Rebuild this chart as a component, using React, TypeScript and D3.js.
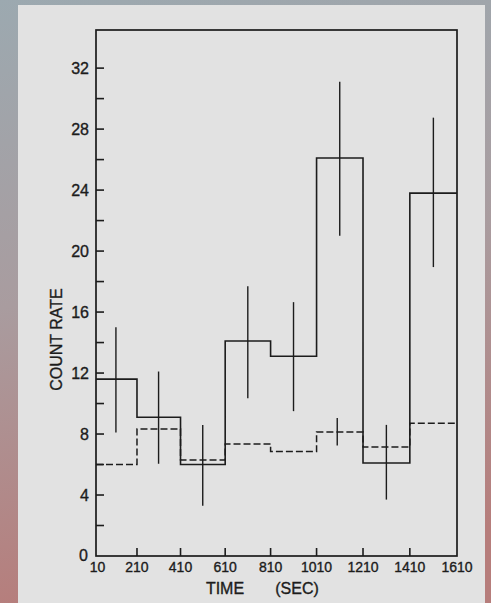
import * as d3 from 'd3'

const W = 491
const H = 603

// bin left edges (sec) and axis labels
const binStart = [10, 210, 410, 610, 810, 1010, 1210, 1410]
const binEnd = 1610
const xTickLabels = ['10', '210', '410', '610', '810', '1010', '1210', '1410', '1610']
const yTickLabels = ['0', '4', '8', '12', '16', '20', '24', '28', '32']

// observed count rate (solid) with error bar limits
const countRate = [11.6, 9.1, 6.0, 14.1, 13.1, 26.1, 6.1, 23.8]
const errTop = [15.0, 12.1, 8.6, 17.7, 16.65, 31.1, 8.6, 28.75]
const errBottom = [8.1, 6.05, 3.3, 10.35, 9.5, 21.0, 3.7, 18.95]

// background rate (dashed)
const bgRate = [6.0, 8.33, 6.3, 7.35, 6.85, 8.13, 7.15, 8.7]
const bgErrBin = 5
const bgErrTop = 9.05
const bgErrBottom = 7.25

const ink = '#1c1c1c'
const font = '"Liberation Sans", Arial, sans-serif'
// scanned lettering is a bit heavier than the regular face
const textStyle = { fontFamily: font, fill: ink, stroke: ink, strokeWidth: 0.35 }

const App = () => {
  const margin = { left: 96, right: 34, top: 30, bottom: 47 }
  const x0 = margin.left
  const x1 = W - margin.right
  const y0 = H - margin.bottom
  const y1 = margin.top

  // the scanned axis stretches a little towards the right
  const x = d3.scalePow().exponent(1.05).domain([10, binEnd]).range([x0, x1])
  const y = d3.scaleLinear().domain([0, 34.5]).range([y0, y1])

  const step = d3
    .line<[number, number]>()
    .x((d) => x(d[0]))
    .y((d) => y(d[1]))
    .curve(d3.curveStepAfter)

  const toPoints = (vals: number[]) => {
    const pts: [number, number][] = binStart.map((s, i) => [s, vals[i]])
    pts.push([binEnd, vals[vals.length - 1]])
    return pts
  }

  const mid = (i: number) => (binStart[i] + (binStart[i + 1] ?? binEnd)) / 2

  const yMinor = d3.range(2, 33, 2)
  const xTickVals = xTickLabels.map((t) => +t)

  return (
    <svg
      width={W}
      height={H}
      style={{ position: 'absolute', left: 0, top: 0 }}
    >
      <defs>
        <linearGradient id='bg' x1='0' y1='0' x2='0.15' y2='1'>
          <stop offset='0' stopColor='#9ca9b0' />
          <stop offset='0.5' stopColor='#a99c9f' />
          <stop offset='1' stopColor='#b67d7b' />
        </linearGradient>
      </defs>
      <rect x={0} y={0} width={W} height={H} fill='url(#bg)' />
      <rect x={18} y={5} width={467} height={H - 5} fill='#e2e2e2' />

      {/* frame */}
      <rect
        x={x0}
        y={y1}
        width={x1 - x0}
        height={y0 - y1}
        fill='none'
        stroke={ink}
        strokeWidth={1.7}
      />

      {/* y ticks */}
      {yMinor.map((v) => (
        <line key={v} x1={x0} x2={x0 + 8} y1={y(v)} y2={y(v)} stroke={ink} strokeWidth={1.6} />
      ))}
      {yTickLabels.map((t) => (
        <text
          key={t}
          x={t === '0' ? x0 - 8 : x0 - 7}
          y={t === '0' ? y(0) - 1 : y(+t)}
          dy='0.36em'
          textAnchor='end'
          fontSize={16}
          {...textStyle}
        >
          {t}
        </text>
      ))}

      {/* x ticks */}
      {xTickVals.slice(1, -1).map((v) => (
        <line key={v} x1={x(v)} x2={x(v)} y1={y0} y2={y0 - 8} stroke={ink} strokeWidth={1.6} />
      ))}
      {xTickLabels.map((t, i) => (
        <text
          key={t}
          x={x(xTickVals[i]) + (i === 0 ? 1.5 : 0)}
          y={y0 + 16}
          textAnchor='middle'
          fontSize={14}
          {...textStyle}
        >
          {t}
        </text>
      ))}

      {/* axis titles */}
      <text x={225} y={y0 + 38} textAnchor='middle' fontSize={16} {...textStyle}>
        TIME
      </text>
      <text x={297} y={y0 + 38} textAnchor='middle' fontSize={16} {...textStyle}>
        (SEC)
      </text>
      <text
        transform={`translate(62, ${y(14.2)}) rotate(-90)`}
        textAnchor='middle'
        fontSize={16}
        {...textStyle}
      >
        COUNT RATE
      </text>

      {/* background (dashed) */}
      <path
        d={step(toPoints(bgRate)) ?? ''}
        fill='none'
        stroke={ink}
        strokeWidth={1.5}
        strokeDasharray='7 3'
      />
      <line
        x1={x(mid(bgErrBin)) - 2.5}
        x2={x(mid(bgErrBin)) - 2.5}
        y1={y(bgErrTop)}
        y2={y(bgErrBottom)}
        stroke={ink}
        strokeWidth={1.4}
      />

      {/* count rate (solid) */}
      <path d={step(toPoints(countRate)) ?? ''} fill='none' stroke={ink} strokeWidth={1.6} />
      {countRate.map((_, i) => (
        <line
          key={i}
          x1={x(mid(i))}
          x2={x(mid(i))}
          y1={y(errTop[i])}
          y2={y(errBottom[i])}
          stroke={ink}
          strokeWidth={1.4}
        />
      ))}
    </svg>
  )
}

export default App
